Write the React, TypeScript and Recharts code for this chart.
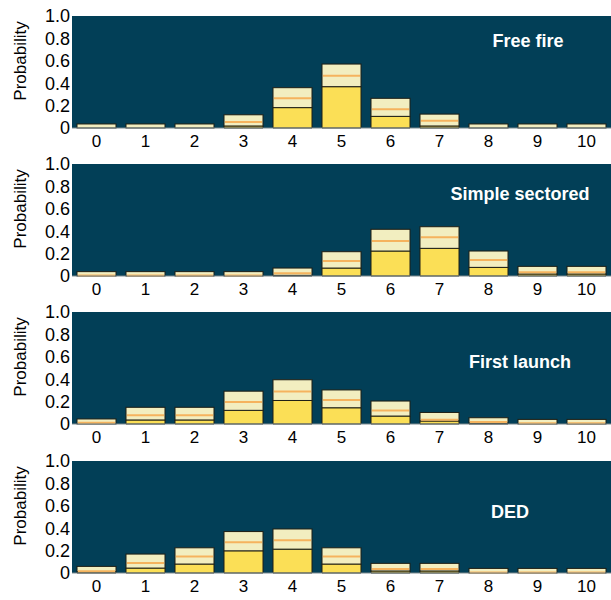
import { ComposedChart, Bar, XAxis, YAxis, CartesianGrid, Customized, Label } from "recharts";

const categories = [0, 1, 2, 3, 4, 5, 6, 7, 8, 9, 10];
const yTicks = [0, 0.2, 0.4, 0.6, 0.8, 1.0];

const panelTitles = ["Free fire", "Simple sectored", "First launch", "DED"];

// lower bound / median / upper bound of each bar
const freeFireLower = [0, 0, 0, 0.018, 0.182, 0.369, 0.104, 0.018, 0, 0, 0];
const freeFireMedian = [0, 0, 0, 0.053, 0.266, 0.466, 0.168, 0.065, 0, 0, 0];
const freeFireUpper = [0.036, 0.036, 0.036, 0.118, 0.36, 0.571, 0.265, 0.124, 0.036, 0.036, 0.036];

const sectoredLower = [0, 0, 0, 0, 0.006, 0.071, 0.223, 0.247, 0.077, 0.018, 0.018];
const sectoredMedian = [0.004, 0.004, 0.004, 0.004, 0.024, 0.134, 0.313, 0.345, 0.143, 0.033, 0.033];
const sectoredUpper = [0.039, 0.039, 0.039, 0.039, 0.071, 0.217, 0.417, 0.44, 0.223, 0.086, 0.086];

const launchLower = [0, 0.036, 0.036, 0.122, 0.21, 0.145, 0.071, 0.027, 0.008, 0, 0];
const launchMedian = [0.012, 0.078, 0.078, 0.197, 0.29, 0.215, 0.121, 0.038, 0.018, 0.006, 0.006];
const launchUpper = [0.045, 0.149, 0.149, 0.293, 0.395, 0.304, 0.205, 0.103, 0.056, 0.041, 0.041];

const dedLower = [0.01, 0.044, 0.08, 0.198, 0.213, 0.08, 0.018, 0.018, 0, 0, 0];
const dedMedian = [0.015, 0.089, 0.148, 0.275, 0.293, 0.148, 0.036, 0.036, 0.004, 0.004, 0.004];
const dedUpper = [0.059, 0.169, 0.225, 0.37, 0.393, 0.225, 0.086, 0.086, 0.041, 0.041, 0.041];

const FONT = '"Liberation Sans", Arial, Helvetica, sans-serif';
const BG = "#023f57";
const YELLOW = "#fbdf56";
const PALE = "#f2eec0";
const ORANGE = "#f5b35e";
const EDGE = "#1e1e14";

const buildRows = (lower: number[], median: number[], upper: number[]) =>
    categories.map((k, i) => ({
        k,
        lower: lower[i],
        band: upper[i] - lower[i],
        median: median[i],
        upper: upper[i],
    }));

const panels = [
    { title: panelTitles[0], rows: buildRows(freeFireLower, freeFireMedian, freeFireUpper), tx: 528, ty: 41 },
    { title: panelTitles[1], rows: buildRows(sectoredLower, sectoredMedian, sectoredUpper), tx: 520, ty: 46 },
    { title: panelTitles[2], rows: buildRows(launchLower, launchMedian, launchUpper), tx: 520, ty: 66 },
    { title: panelTitles[3], rows: buildRows(dedLower, dedMedian, dedUpper), tx: 510, ty: 67 },
];

const panelTops = [0, 148, 296, 445];

// pale band with the median drawn across it
const BandShape = (props: any) => {
    const { x, y, width, height, payload } = props;
    if (!height || height <= 0) return null;
    const span = payload.upper - payload.lower;
    const ym = span > 0 ? y + (height * (payload.upper - payload.median)) / span : y;
    return (
        <g>
            <rect x={x} y={y} width={width} height={height} fill={PALE} stroke={EDGE} strokeWidth={1} />
            {payload.median > 0 && (
                <line x1={x + 1} x2={x + width - 1} y1={ym} y2={ym} stroke={ORANGE} strokeWidth={2} />
            )}
        </g>
    );
};

const Panel = ({ title, rows, tx, ty }: any) => {
    return (
        <ComposedChart
            width={611}
            height={155}
            data={rows}
            margin={{ top: 16, right: 0, bottom: 7, left: 0 }}
            style={{ fontFamily: FONT }}
        >
            <CartesianGrid fill={BG} stroke="none" />
            <XAxis
                dataKey="k"
                type="category"
                height={20}
                tickLine={false}
                tickSize={0}
                tickMargin={7}
                axisLine={{ stroke: "#7d8a8e" }}
                tick={{ fill: "#000", fontSize: 17, fontFamily: FONT }}
            />
            <YAxis
                type="number"
                domain={[0, 1]}
                ticks={yTicks}
                width={72}
                tickLine={false}
                axisLine={false}
                tickSize={0}
                tickMargin={2}
                interval={0}
                tickFormatter={(v: number) => (v === 0 ? "0" : v.toFixed(1))}
                tick={{ fill: "#000", fontSize: 18, fontFamily: FONT }}
            >
                <Label
                    content={() => (
                        <text
                            x={20}
                            y={61}
                            transform="rotate(-90 20 61)"
                            textAnchor="middle"
                            dominantBaseline="central"
                            fontSize={17}
                            fontFamily={FONT}
                            fill="#000"
                        >
                            Probability
                        </text>
                    )}
                />
            </YAxis>
            <Bar dataKey="lower" stackId="a" barSize={39} fill={YELLOW} stroke={EDGE} strokeWidth={1} isAnimationActive={false} />
            <Bar dataKey="band" stackId="a" barSize={39} shape={BandShape} isAnimationActive={false} />
            <Customized
                component={() => (
                    <text
                        x={tx}
                        y={ty}
                        textAnchor="middle"
                        dominantBaseline="central"
                        fontSize={18}
                        fontWeight="bold"
                        fontFamily={FONT}
                        fill="#fff"
                    >
                        {title}
                    </text>
                )}
            />
        </ComposedChart>
    );
};

const App = () => {
    return (
        <div style={{ position: "absolute", left: 0, top: 0, width: 611, height: 600, background: "#fff" }}>
            {panels.map((p, i) => (
                <div key={p.title} style={{ position: "absolute", left: 0, top: panelTops[i] }}>
                    <Panel {...p} />
                </div>
            ))}
        </div>
    );
};

export default App;
